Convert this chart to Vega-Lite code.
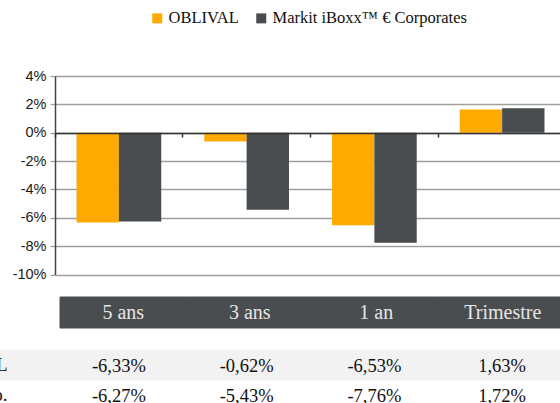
{
  "$schema": "https://vega.github.io/schema/vega-lite/v6.json",
  "width": 511,
  "height": 327,
  "autosize": {"type": "none"},
  "padding": {"left": 55, "top": 76, "right": 0, "bottom": 0},
  "background": "#ffffff",
  "config": {
    "view": {"stroke": null},
    "locale": {"number": {"decimal": ",", "thousands": " ", "grouping": [3], "currency": ["", "%"], "minus": "-"}}
  },
  "datasets": {
    "perf": [
      {"periode": "5 ans", "serie": "OBLIVAL", "valeur": -6.33},
      {"periode": "3 ans", "serie": "OBLIVAL", "valeur": -0.62},
      {"periode": "1 an", "serie": "OBLIVAL", "valeur": -6.53},
      {"periode": "Trimestre", "serie": "OBLIVAL", "valeur": 1.63},
      {"periode": "5 ans", "serie": "Markit iBoxx™ € Corporates", "valeur": -6.27},
      {"periode": "3 ans", "serie": "Markit iBoxx™ € Corporates", "valeur": -5.43},
      {"periode": "1 an", "serie": "Markit iBoxx™ € Corporates", "valeur": -7.76},
      {"periode": "Trimestre", "serie": "Markit iBoxx™ € Corporates", "valeur": 1.72}
    ],
    "periodes": [
      {"periode": "5 ans"},
      {"periode": "3 ans"},
      {"periode": "1 an"},
      {"periode": "Trimestre"}
    ]
  },
  "layer": [
    {
      "data": {"name": "perf"},
      "mark": {"type": "bar"},
      "encoding": {
        "x": {
          "field": "periode", "type": "nominal",
          "sort": ["5 ans", "3 ans", "1 an", "Trimestre"],
          "scale": {"paddingInner": 0, "paddingOuter": 0},
          "axis": {"orient": "bottom", "offset": -270, "labels": false, "title": null, "grid": false,
                   "domain": true, "domainColor": "#333333", "domainWidth": 1.5,
                   "ticks": true, "tickColor": "#333333", "tickWidth": 1.5, "tickSize": 4,
                   "bandPosition": 0, "zindex": 2}
        },
        "xOffset": {
          "field": "serie", "type": "nominal",
          "sort": ["OBLIVAL", "Markit iBoxx™ € Corporates"],
          "scale": {"paddingInner": 0, "paddingOuter": 0.508}
        },
        "y": {
          "field": "valeur", "type": "quantitative",
          "scale": {"domain": [-10, 4], "range": [198.5, 0], "nice": false, "zero": false},
          "axis": {"orient": "left", "values": [-10, -8, -6, -4, -2, 0, 2, 4], "labelExpr": "datum.value + '%'",
                   "title": null, "labelFont": "Liberation Sans", "labelFontSize": 14.5, "labelColor": "#1a1a1a",
                   "labelPadding": 4, "tickSize": 5, "tickColor": "#9f9f9f", "tickWidth": 1.3,
                   "domain": true, "domainColor": "#444444", "domainWidth": 1.5,
                   "grid": true, "gridColor": "#9f9f9f", "gridWidth": 1.3}
        },
        "color": {
          "field": "serie", "type": "nominal",
          "scale": {"domain": ["OBLIVAL", "Markit iBoxx™ € Corporates"], "range": ["#FFAA00", "#484C4E"]},
          "legend": {"title": null, "orient": "none", "legendX": 94, "legendY": -66, "direction": "horizontal",
                     "symbolType": "square", "symbolSize": 100, "symbolStrokeWidth": 0,
                     "labelFont": "Liberation Serif", "labelFontSize": 16.5, "labelColor": "#111111",
                     "labelLimit": 400, "columnPadding": 14, "labelOffset": 3}
        }
      }
    },
    {
      "data": {"name": "periodes"},
      "layer": [
        {
          "mark": {"type": "rect", "fill": "#4A4D4F", "stroke": "#4A4D4F", "strokeWidth": 1},
          "encoding": {
            "x": {"field": "periode", "type": "nominal", "sort": ["5 ans", "3 ans", "1 an", "Trimestre"],
                  "scale": {"range": [5, 511], "paddingInner": 0, "paddingOuter": 0}, "axis": null},
            "y": {"datum": "entete", "type": "nominal",
                  "scale": {"domain": ["entete"], "range": [221, 252], "paddingInner": 0, "paddingOuter": 0}, "axis": null}
          }
        },
        {
          "mark": {"type": "text", "fill": "#E6E6E6", "font": "Liberation Serif", "fontSize": 20, "baseline": "middle"},
          "encoding": {
            "x": {"field": "periode", "type": "nominal", "sort": ["5 ans", "3 ans", "1 an", "Trimestre"],
                  "scale": {"range": [5, 511], "paddingInner": 0, "paddingOuter": 0}, "axis": null},
            "y": {"datum": "entete", "type": "nominal",
                  "scale": {"domain": ["entete"], "range": [221, 252], "paddingInner": 0, "paddingOuter": 0}, "axis": null},
            "text": {"field": "periode", "type": "nominal"}
          }
        }
      ]
    },
    {
      "data": {"name": "perf"},
      "layer": [
        {
          "transform": [{"filter": "datum.serie === 'OBLIVAL'"}],
          "mark": {"type": "rect", "fill": "#F2F2F2", "stroke": "#F2F2F2", "strokeWidth": 1},
          "encoding": {
            "x": {"field": "periode", "type": "nominal", "sort": ["5 ans", "3 ans", "1 an", "Trimestre"],
                  "scale": {"range": [-55, 511], "paddingInner": 0, "paddingOuter": 0}, "axis": null},
            "y": {"field": "serie", "type": "nominal",
                  "scale": {"domain": ["OBLIVAL", "Markit iBoxx™ € Corporates"], "range": [274, 334], "paddingInner": 0, "paddingOuter": 0},
                  "axis": {"orient": "left", "title": null, "domain": false, "ticks": false, "grid": false,
                           "labelPadding": 48, "labelFont": "Liberation Serif", "labelFontSize": 18.5, "labelColor": "#111111",
                           "labelLimit": 400,
                           "labelExpr": "datum.value === 'OBLIVAL' ? 'OBLIVAL' : 'Markit iBoxx™ € Corp.'"}}
          }
        },
        {
          "mark": {"type": "text", "font": "Liberation Serif", "fontSize": 18.5, "fill": "#111111", "baseline": "middle", "dy": 1},
          "encoding": {
            "x": {"field": "periode", "type": "nominal", "sort": ["5 ans", "3 ans", "1 an", "Trimestre"],
                  "scale": {"range": [0, 511], "paddingInner": 0, "paddingOuter": 0}, "axis": null},
            "y": {"field": "serie", "type": "nominal",
                  "scale": {"domain": ["OBLIVAL", "Markit iBoxx™ € Corporates"], "range": [274, 334], "paddingInner": 0, "paddingOuter": 0},
                  "axis": {"orient": "left", "title": null, "domain": false, "ticks": false, "grid": false,
                           "labelPadding": 48, "labelFont": "Liberation Serif", "labelFontSize": 18.5, "labelColor": "#111111",
                           "labelLimit": 400,
                           "labelExpr": "datum.value === 'OBLIVAL' ? 'OBLIVAL' : 'Markit iBoxx™ € Corp.'"}},
            "text": {"field": "valeur", "type": "quantitative", "format": "$.2f"}
          }
        }
      ],
      "resolve": {"scale": {"x": "independent"}}
    }
  ],
  "resolve": {"scale": {"x": "independent", "y": "independent"}}
}
